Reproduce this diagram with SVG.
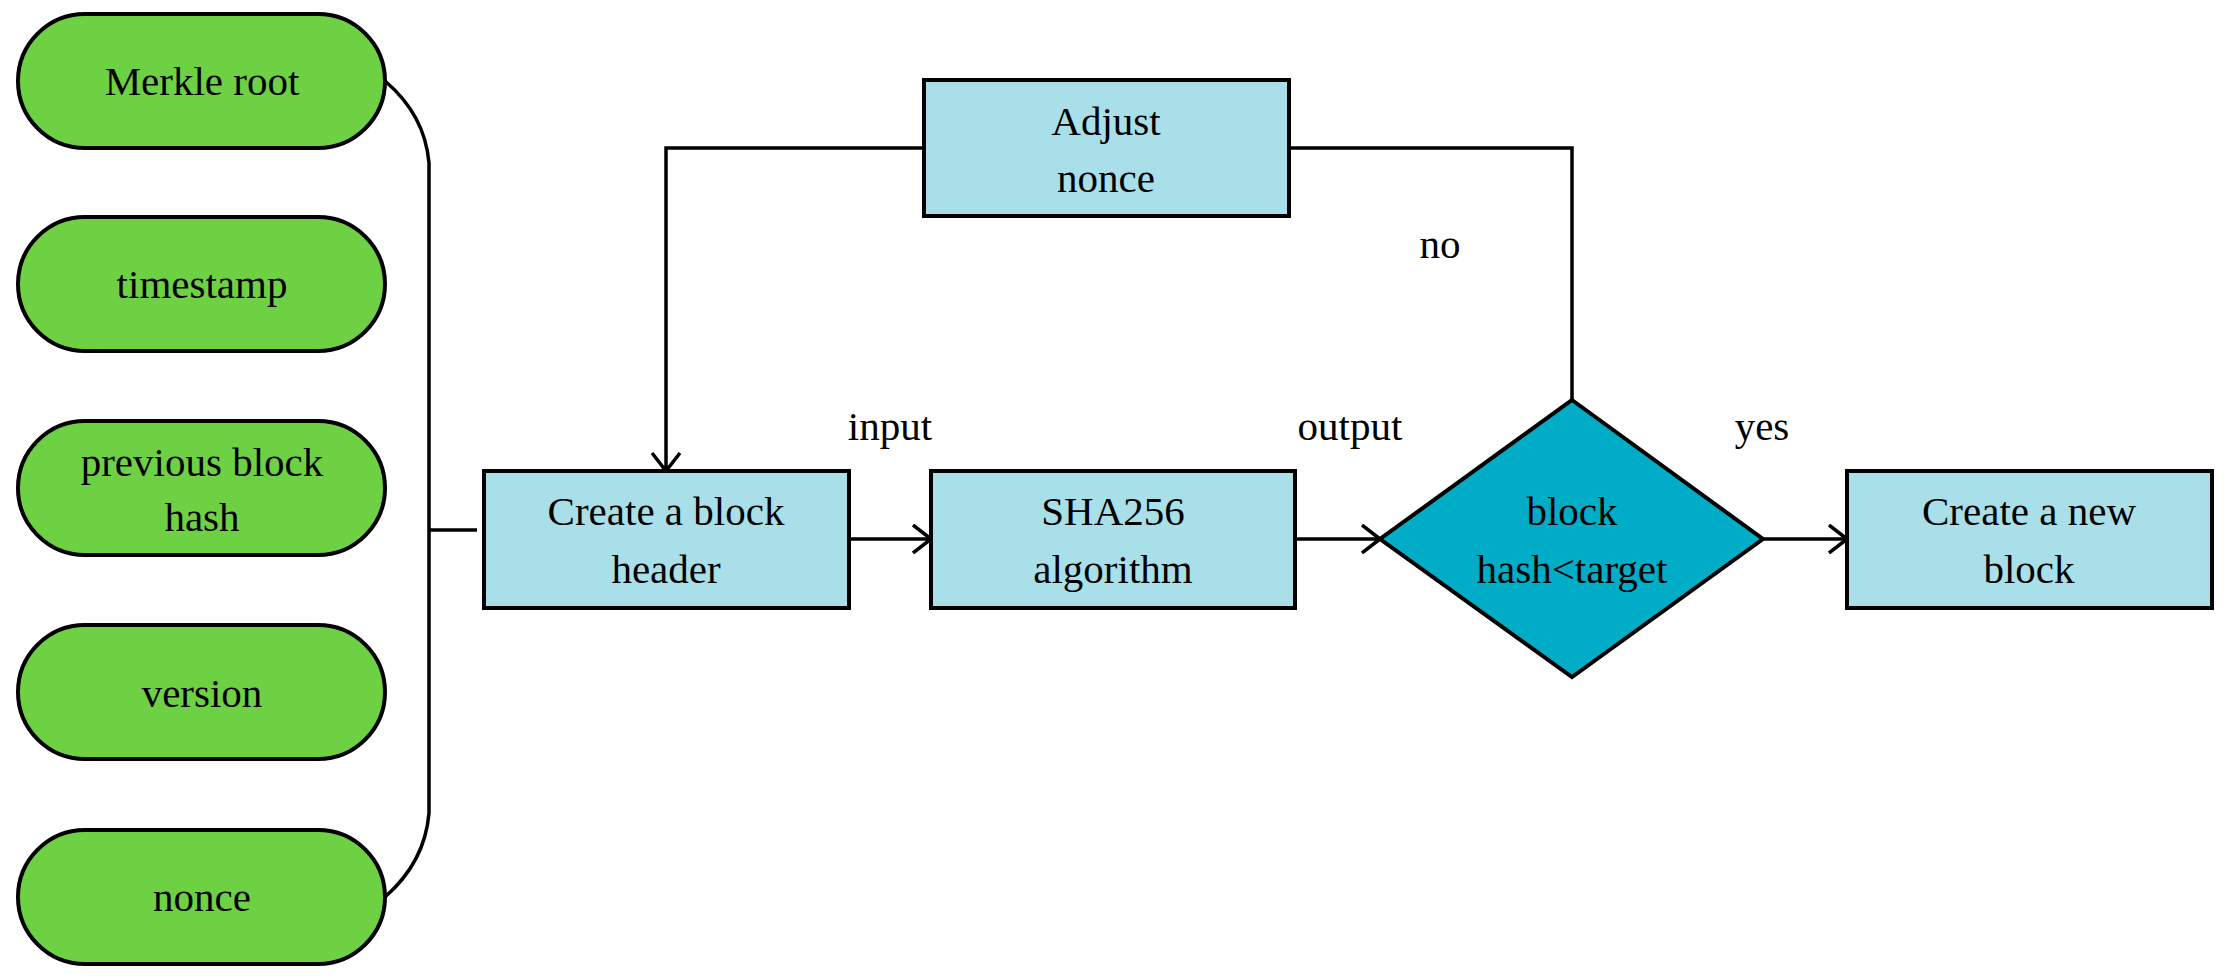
<svg xmlns="http://www.w3.org/2000/svg" width="2226" height="978" viewBox="0 0 2226 978">
<style>
.p{fill:#6ED144;stroke:#000;stroke-width:4}
.b{fill:#A8DFE9;stroke:#000;stroke-width:4}
.d{fill:#00ACC6;stroke:#000;stroke-width:4}
.l{fill:none;stroke:#000;stroke-width:3.5}
text{font-family:"Liberation Serif",serif;font-size:41px;text-anchor:middle;fill:#000}
</style>
<defs><marker id="a" viewBox="0 0 20 30" refX="19" refY="15" markerWidth="20" markerHeight="30" markerUnits="userSpaceOnUse" orient="auto"><path d="M1,1 L19,15 L1,29" fill="none" stroke="#000" stroke-width="3.5"/></marker></defs>
<rect width="2226" height="978" fill="#fff"/>
<g id="merkle"><rect class="p" x="18" y="14" width="367" height="134" rx="67"/><text x="202" y="95">Merkle root</text></g>
<g id="timestamp"><rect class="p" x="18" y="217" width="367" height="134" rx="67"/><text x="202" y="298">timestamp</text></g>
<g id="prevhash"><rect class="p" x="18" y="421" width="367" height="134" rx="67"/><text x="202" y="476">previous block</text><text x="202" y="531">hash</text></g>
<g id="version"><rect class="p" x="18" y="625" width="367" height="134" rx="67"/><text x="202" y="707">version</text></g>
<g id="nonce"><rect class="p" x="18" y="830" width="367" height="134" rx="67"/><text x="202" y="911">nonce</text></g>
<g id="header"><rect class="b" x="484" y="471" width="365" height="137"/><text x="666" y="525">Create a block</text><text x="666" y="583">header</text></g>
<g id="sha"><rect class="b" x="931" y="471" width="364" height="137"/><text x="1113" y="525">SHA256</text><text x="1113" y="583">algorithm</text></g>
<g id="adjust"><rect class="b" x="924" y="80" width="365" height="136"/><text x="1106" y="135">Adjust</text><text x="1106" y="192">nonce</text></g>
<g id="cond"><polygon class="d" points="1572,400 1763,539 1572,677 1380,539"/><text x="1572" y="525">block</text><text x="1572" y="583">hash&lt;target</text></g>
<g id="newblock"><rect class="b" x="1847" y="471" width="365" height="137"/><text x="2029" y="525">Create a new</text><text x="2029" y="583">block</text></g>
<g id="connectors">
<path class="l" d="M385,81 Q425,115 429,163 L429,813 Q425,862 385,897"/>
<path class="l" d="M429,530 L477,530"/>
<path class="l" d="M849,539 L931,539" marker-end="url(#a)"/>
<path class="l" d="M1295,539 L1380,539" marker-end="url(#a)"/>
<path class="l" d="M1763,539 L1847,539" marker-end="url(#a)"/>
<path class="l" d="M924,148 L666,148 L666,471" marker-end="url(#a)"/>
<path class="l" d="M1289,148 L1572,148 L1572,400"/>
<text x="890" y="440">input</text>
<text x="1350" y="440">output</text>
<text x="1762" y="440">yes</text>
<text x="1440" y="258">no</text>
</g>
</svg>
